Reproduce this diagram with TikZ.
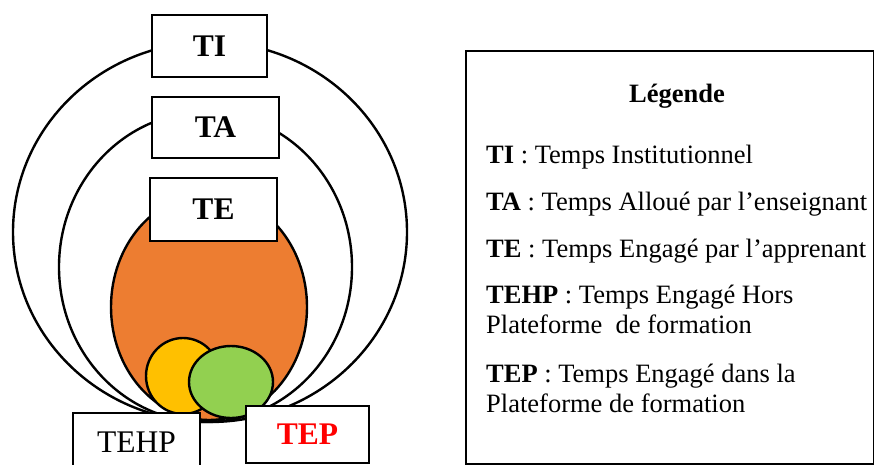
\documentclass[tikz,border=0pt]{standalone}
\usepackage{fontspec}
\setmainfont{Liberation Serif}
\usetikzlibrary{shapes.geometric}
\definecolor{teorange}{HTML}{ED7D31}
\definecolor{tehpyellow}{HTML}{FFC000}
\definecolor{tepgreen}{HTML}{92D050}
\tikzset{
  ring/.style={draw=black, line width=2.4pt, ellipse, inner sep=0pt, fill=#1},
  ring/.default=white,
  labelbox/.style={draw=black, line width=2.4pt, fill=white, inner sep=0pt,
    font=\fontsize{31.5}{37}\selectfont},
  legtext/.style={anchor=base west, inner sep=0pt, font=\fontsize{26.5}{30}\selectfont},
}
\begin{document}
\begin{tikzpicture}[x=1pt, y=-1pt]
\useasboundingbox (0,0) rectangle (874,464);
% nested ellipses
\node[ring, minimum width=394pt, minimum height=380pt] (ti) at (210,232) {};
\node[ring, minimum width=293pt, minimum height=310pt] (ta) at (205.5,267) {};
\node[ring=teorange, minimum width=196pt, minimum height=226pt] (te) at (209,307) {};
\node[ring=tehpyellow, minimum width=74pt, minimum height=76pt] (tehp) at (183,376) {};
\node[ring=tepgreen, minimum width=84pt, minimum height=72pt] (tep) at (231,382) {};
% label boxes
\node[labelbox, minimum width=115pt, minimum height=62pt] (tibox) at (209.5,46) {\textbf{TI}};
\node[labelbox, minimum width=127pt, minimum height=61pt] (tabox) at (215.5,127.5) {\textbf{TA}};
\node[labelbox, minimum width=127pt, minimum height=63pt] (tebox) at (213.5,209.5) {\textbf{TE}};
\node[labelbox, minimum width=127pt, minimum height=70pt, anchor=north] (tehpbox) at (136.5,412) {};
\node[legtext, anchor=base] (tehplabel) at (136.5,452) {\fontsize{31.5}{37}\selectfont TEHP};
\node[labelbox, minimum width=123pt, minimum height=57pt] (tepbox) at (307.5,434.5) {\textcolor{red}{\textbf{TEP}}};
% legend
\node[draw=black, line width=1.8pt, minimum width=408pt, minimum height=413pt, inner sep=0pt, anchor=north west] (legend) at (465,50) {};
\node[legtext, anchor=base] (legtitle) at (677,102) {\textbf{Légende}};
\node[legtext] (l1) at (486,163) {\textbf{TI} : Temps Institutionnel};
\node[legtext] (l2) at (486,210) {\textbf{TA} : Temps Alloué par l’enseignant};
\node[legtext] (l3) at (486,257) {\textbf{TE} : Temps Engagé par l’apprenant};
\node[legtext] (l4a) at (486,303) {\textbf{TEHP} : Temps Engagé Hors};
\node[legtext] (l4b) at (486,333) {Plateforme\ \ de formation};
\node[legtext] (l5a) at (486,382) {\textbf{TEP} : Temps Engagé dans la};
\node[legtext] (l5b) at (486,412) {Plateforme de formation};
\end{tikzpicture}
\end{document}
